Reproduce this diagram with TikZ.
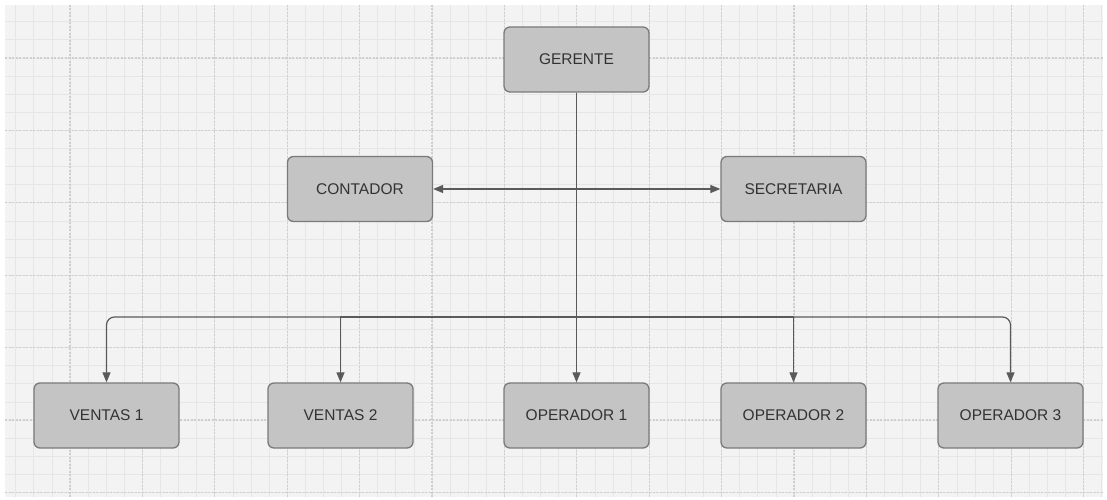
\documentclass[tikz,border=0pt]{standalone}
\usepackage{fontspec}
\setmainfont{Liberation Sans}
\usetikzlibrary{arrows.meta}
\definecolor{bg}{HTML}{F3F3F3}
\definecolor{minorc}{HTML}{E6E6E6}
\definecolor{majorc}{HTML}{CFCFCF}
\definecolor{boxfill}{HTML}{C4C4C4}
\definecolor{boxline}{HTML}{7A7A7A}
\definecolor{txt}{HTML}{333333}
\definecolor{linec}{HTML}{5A5A5A}
\tikzset{
  orgbox/.style={rectangle, rounded corners=6pt, draw=boxline, line width=1.3pt, fill=boxfill,
    minimum width=145pt, minimum height=65pt, text=txt, font=\fontsize{15.5}{18}\selectfont},
  conn/.style={draw=linec, line width=1.2pt, -{Triangle[length=10pt,width=8pt]}},
  biconn/.style={draw=linec, line width=1.2pt, {Triangle[length=10pt,width=8pt]}-{Triangle[length=10pt,width=8pt]}},
  minorline/.style={draw=minorc, line width=0.8pt},
  majorline/.style={draw=majorc, line width=1.1pt, dash pattern=on 2pt off 1.5pt}
}
\begin{document}
\begin{tikzpicture}[x=1pt,y=-1pt]
\useasboundingbox (0,0) rectangle (1107,500);
\fill[white] (0,0) rectangle (1107,500);
\fill[bg] (5,5) rectangle (1103,497);
\begin{scope}
\clip (5,5) rectangle (1103,497);
\foreach \i in {-4,...,58} {\draw[minorline] ({70+18.1*\i},5) -- ({70+18.1*\i},497);}
\foreach \i in {-4,...,26} {\draw[minorline] (5,{58+18.1*\i}) -- (1103,{58+18.1*\i});}
\foreach \i in {-1,...,15} {\draw[majorline] ({70+72.4*\i},5) -- ({70+72.4*\i},497);}
\foreach \i in {-1,...,7} {\draw[majorline] (5,{58+72.4*\i}) -- (1103,{58+72.4*\i});}
\end{scope}

\node[orgbox] (g) at (576.5,59.5) {GERENTE};
\node[orgbox] (c) at (360,189) {CONTADOR};
\node[orgbox] (s) at (793.5,189) {SECRETARIA};
\node[orgbox] (v1) at (106.5,415.5) {VENTAS 1};
\node[orgbox] (v2) at (340.5,415.5) {VENTAS 2};
\node[orgbox] (o1) at (576.5,415.5) {OPERADOR 1};
\node[orgbox] (o2) at (793.5,415.5) {OPERADOR 2};
\node[orgbox] (o3) at (1010.5,415.5) {OPERADOR 3};

\coordinate (bus) at (576.5,317);
\draw[conn] (g.south) -- (o1.north);
\draw[biconn] (c.east) -- (s.west);
\draw[conn, rounded corners=8pt] (bus) -| (v1.north);
\draw[conn] (bus) -| (v2.north);
\draw[conn] (bus) -| (o2.north);
\draw[conn, rounded corners=8pt] (bus) -| (o3.north);
\end{tikzpicture}
\end{document}
